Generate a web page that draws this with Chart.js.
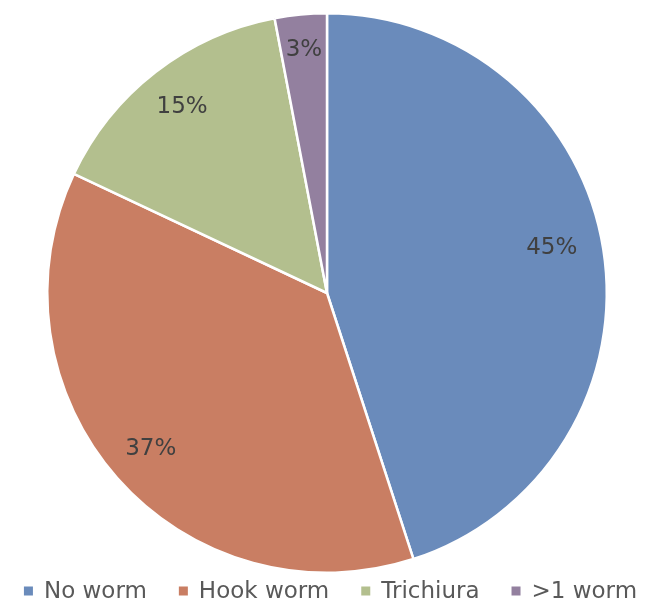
<!DOCTYPE html>
<html>
<head>
<meta charset="utf-8">
<script src="https://cdn.jsdelivr.net/npm/chart.js@4/dist/chart.umd.min.js"></script>
<style>
  html, body { margin: 0; padding: 0; background: #ffffff; }
  #wrap { width: 651px; height: 601px; position: relative; }
</style>
</head>
<body>
<div id="wrap"><canvas id="c" width="651" height="601"></canvas></div>
<script>
const categories = ["No worm", "Hook worm", "Trichiura", ">1 worm"];
const values = [45, 37, 15, 3];
const sliceColors = ["#6a8bbb", "#c97e63", "#b3bf8e", "#93809f"];

const labelFont = "23px 'DejaVu Sans'";
const legendFont = "23px 'DejaVu Sans'";

// label placement within each slice: radius fraction and angle nudge (degrees)
const labelRadius = [0.82, 0.84, 0.845, 0.875];
const labelNudge = [-2.5, 0, 0, 0];

const pctLabels = {
  id: "pctLabels",
  afterDatasetsDraw(chart) {
    const ctx = chart.ctx;
    const meta = chart.getDatasetMeta(0);
    ctx.save();
    ctx.font = labelFont;
    ctx.fillStyle = "#404040";
    ctx.textAlign = "center";
    ctx.textBaseline = "middle";
    meta.data.forEach((arc, i) => {
      const p = arc.getProps(["x", "y", "startAngle", "endAngle", "outerRadius"], true);
      const mid = (p.startAngle + p.endAngle) / 2 + labelNudge[i] * Math.PI / 180;
      const r = p.outerRadius * labelRadius[i];
      ctx.fillText(values[i] + "%", p.x + Math.cos(mid) * r, p.y + Math.sin(mid) * r + 1);
    });
    ctx.restore();
  }
};

const bottomLegend = {
  id: "bottomLegend",
  afterDraw(chart) {
    const ctx = chart.ctx;
    ctx.save();
    ctx.font = legendFont;
    const box = 9, gapText = 11, gapItem = 32;
    const widths = categories.map(c => box + gapText + ctx.measureText(c).width);
    const total = widths.reduce((a, b) => a + b, 0) + gapItem * (categories.length - 1);
    let x = 330.5 - total / 2;
    const y = 591;
    ctx.textBaseline = "middle";
    ctx.textAlign = "left";
    categories.forEach((c, i) => {
      ctx.fillStyle = sliceColors[i];
      ctx.fillRect(x, y - box / 2, box, box);
      ctx.fillStyle = "#595959";
      ctx.fillText(c, x + box + gapText, y + 1);
      x += widths[i] + gapItem;
    });
    ctx.restore();
  }
};

new Chart(document.getElementById("c"), {
  type: "pie",
  data: {
    labels: categories,
    datasets: [{
      data: values,
      backgroundColor: sliceColors,
      borderColor: "#ffffff",
      borderWidth: 2.5
    }]
  },
  options: {
    responsive: false,
    animation: false,
    layout: { padding: { top: 12, bottom: 27, left: 3, right: 0 } },
    plugins: {
      legend: { display: false },
      tooltip: { enabled: false }
    }
  },
  plugins: [pctLabels, bottomLegend]
});
</script>
</body>
</html>
